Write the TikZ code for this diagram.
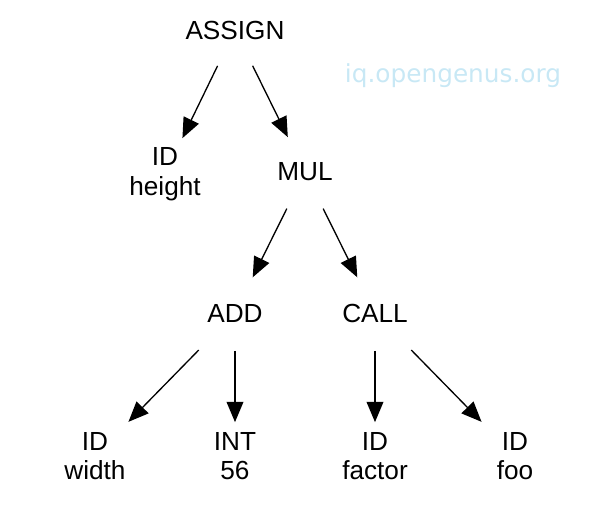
\documentclass[tikz,border=0pt]{standalone}
\usepackage{fontspec}
\setmainfont{Liberation Sans}
\newfontfamily\wmfont{DejaVu Sans}
\usetikzlibrary{arrows.meta}
\definecolor{wmblue}{RGB}{200,232,245}
\begin{document}
\begin{tikzpicture}[x=0.02cm,y=-0.02cm,
  lbl/.style={inner sep=0pt, align=center, font=\fontsize{14.9}{16.8}\selectfont},
  edge/.style={line width=0.75pt, -{Triangle[length=11.5pt,width=9.5pt]}}]
\useasboundingbox (0,0) rectangle (600,518);
\node[lbl] (assign) at (235,30) {ASSIGN};
\node[lbl] (idh) at (165,174) {ID\\height};
\node[lbl] (mul) at (305,172) {MUL};
\node[lbl] (add) at (235,313) {ADD};
\node[lbl] (call) at (375,313) {CALL};
\node[lbl] (idw) at (95,456) {ID\\width};
\node[lbl] (int) at (235,456) {INT\\56};
\node[lbl] (idf) at (375,456) {ID\\factor};
\node[lbl] (idfoo) at (515,456) {ID\\foo};
\node[inner sep=0pt, text=wmblue, font=\wmfont\fontsize{14.1}{16}\selectfont] (wm) at (453,76) {iq.opengenus.org};
\draw[edge, shorten <=40*0.567pt, shorten >=40*0.567pt] (assign.center) -- (idh.center);
\draw[edge, shorten <=40*0.567pt, shorten >=39*0.567pt] (assign.center) -- (mul.center);
\draw[edge, shorten <=41*0.567pt, shorten >=40*0.567pt] (mul.center) -- (add.center);
\draw[edge, shorten <=41*0.567pt, shorten >=40*0.567pt] (mul.center) -- (call.center);
\draw[edge, shorten <=52*0.567pt, shorten >=48*0.567pt] (add.center) -- (idw.center);
\draw[edge, shorten <=38*0.567pt, shorten >=34*0.567pt] (add.center) -- (int.center);
\draw[edge, shorten <=38*0.567pt, shorten >=34*0.567pt] (call.center) -- (idf.center);
\draw[edge, shorten <=52*0.567pt, shorten >=48*0.567pt] (call.center) -- (idfoo.center);
\end{tikzpicture}
\end{document}
